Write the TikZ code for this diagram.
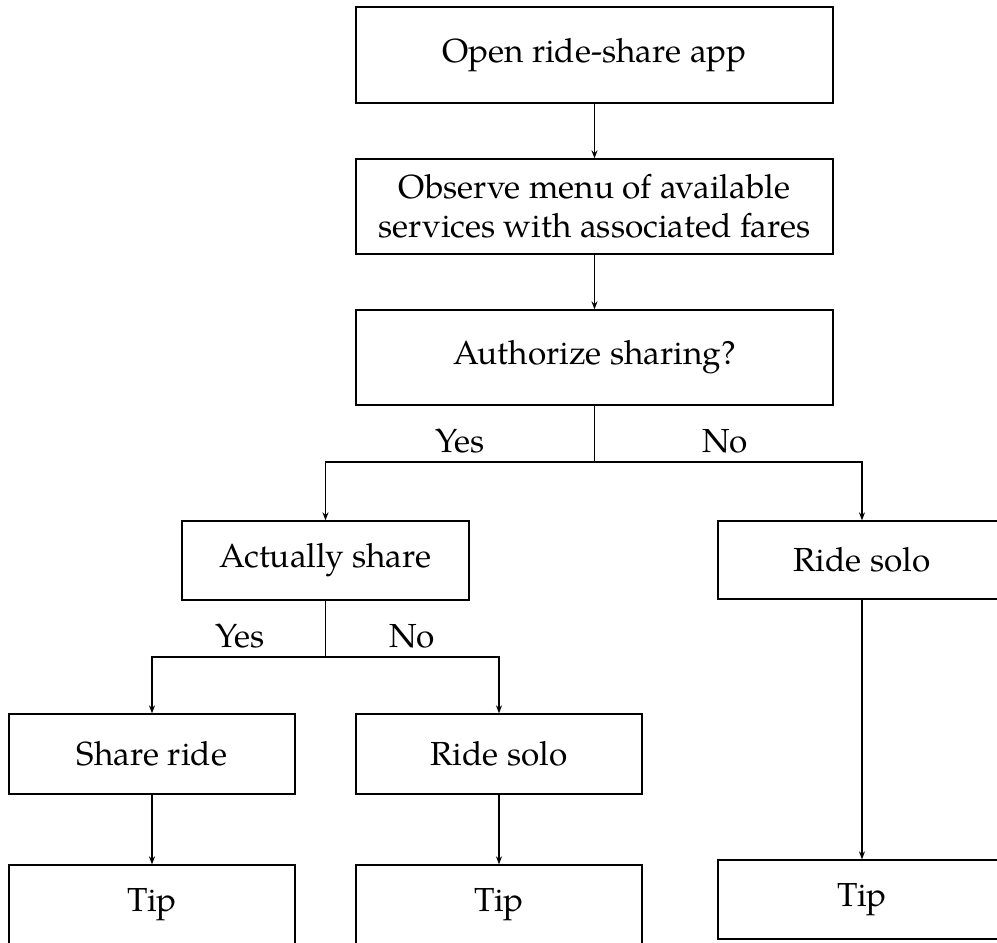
\documentclass[tikz,border=0pt]{standalone}
\usepackage{fontspec}
\setmainfont{TeX Gyre Pagella}
\usetikzlibrary{arrows.meta}
\begin{document}
\begin{tikzpicture}[x=0.3pt,y=-0.3pt,
  box/.style={draw, rectangle, inner sep=0pt, align=center, font=\fontsize{10}{11.6}\selectfont},
  lbl/.style={inner sep=0pt, font=\fontsize{10}{12}\selectfont},
  conn/.style={line width=0.4pt},
  arr/.style={conn,-{Stealth[length=2.4pt,width=1.8pt]}}]
\useasboundingbox (0,0) rectangle (997,943);
\node[box, minimum width=143.1pt, minimum height=28.8pt] (open) at (594.5,55) {Open ride-share app};
\node[box, minimum width=143.1pt, minimum height=28.5pt] (obs) at (594.5,206.5) {Observe menu of available\\services with associated fares};
\node[box, minimum width=143.1pt, minimum height=28.5pt] (auth) at (594.5,357.5) {Authorize sharing?};
\node[box, minimum width=86.1pt, minimum height=23.7pt] (act) at (325.5,560.5) {Actually share};
\node[box, minimum width=86.4pt, minimum height=23.4pt] (soloR) at (862,560) {Ride solo};
\node[box, minimum width=85.8pt, minimum height=24pt] (sharer) at (152,754) {Share ride};
\node[box, minimum width=85.8pt, minimum height=24pt] (soloM) at (499,754) {Ride solo};
\node[box, minimum width=85.8pt, minimum height=24pt] (tipL) at (152,905) {Tip};
\node[box, minimum width=85.8pt, minimum height=24pt] (tipM) at (499,905) {Tip};
\node[box, minimum width=86.4pt, minimum height=23.7pt] (tipR) at (862,899.5) {Tip};
\coordinate (b1) at (594.5,462);
\coordinate (b2) at (325.5,657);
\draw[arr] (open) -- (obs);
\draw[arr] (obs) -- (auth);
\draw[conn] (auth.south) -- (b1);
\draw[arr] (b1) -| (act.north);
\draw[arr] (b1) -| (soloR.north);
\draw[conn] (act.south) -- (b2);
\draw[arr] (b2) -| (sharer.north);
\draw[arr] (b2) -| (soloM.north);
\draw[arr] (sharer) -- (tipL);
\draw[arr] (soloM) -- (tipM);
\draw[arr] (soloR) -- (tipR);
\node[lbl, anchor=base] (y1) at (460,452) {Yes};
\node[lbl, anchor=base] (n1) at (725,452) {No};
\node[lbl, anchor=base] (y2) at (240,647) {Yes};
\node[lbl, anchor=base] (n2) at (412,647) {No};
\end{tikzpicture}
\end{document}
